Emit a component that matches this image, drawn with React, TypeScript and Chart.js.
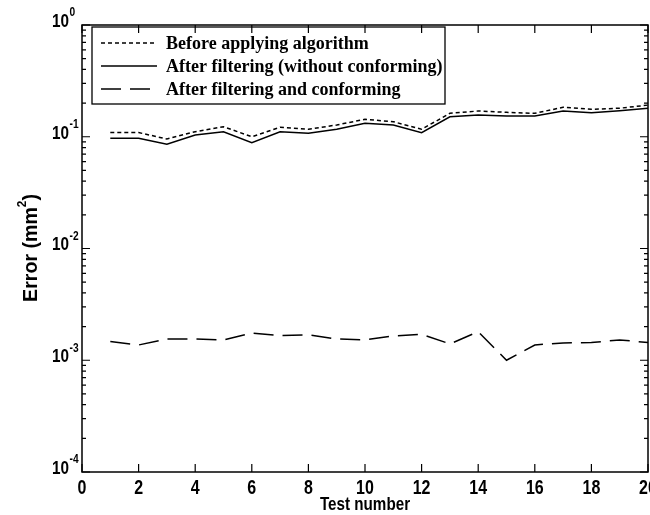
import React, { useEffect, useRef } from 'react';
import { Chart, registerables } from 'chart.js';

Chart.register(...registerables);

const testNumbers = [1, 2, 3, 4, 5, 6, 7, 8, 9, 10, 11, 12, 13, 14, 15, 16, 17, 18, 19, 20];
const beforeAlgorithm = [0.109, 0.109, 0.0955, 0.111, 0.123, 0.1, 0.1216, 0.1167, 0.1274, 0.1433, 0.1364, 0.1167, 0.162, 0.17, 0.1655, 0.162, 0.1835, 0.176, 0.18, 0.192];
const afterFiltering = [0.0969, 0.0969, 0.0856, 0.1037, 0.111, 0.0885, 0.111, 0.1074, 0.1167, 0.1319, 0.1274, 0.1087, 0.151, 0.1566, 0.1534, 0.1534, 0.17, 0.164, 0.171, 0.18];
const afterConforming = [0.00147, 0.00137, 0.00155, 0.00155, 0.00152, 0.00175, 0.00166, 0.00169, 0.00155, 0.00152, 0.00165, 0.00171, 0.0014, 0.0018, 0.001, 0.00137, 0.00143, 0.00144, 0.00152, 0.00144];
const xTickValues = [0, 2, 4, 6, 8, 10, 12, 14, 16, 18, 20];
const yDecadeExponents = [-4, -3, -2, -1, 0];
const seriesLabels = ['Before applying algorithm', 'After filtering (without conforming)', 'After filtering and conforming'];
const xTitle = 'Test number';

const SANS = '"Liberation Sans", Arial, sans-serif';
const SERIF = '"Liberation Serif", "Times New Roman", serif';

function condensedText(ctx: CanvasRenderingContext2D, text: string, x: number, y: number, font: string, sx: number, align: CanvasTextAlign) {
  ctx.save();
  ctx.font = font;
  ctx.translate(x, y);
  ctx.scale(sx, 1);
  ctx.textAlign = align;
  ctx.textBaseline = 'middle';
  ctx.fillText(text, 0, 0);
  ctx.restore();
}

const framePlugin = {
  id: 'matlabFrame',
  afterDatasetsDraw(chart: any) {
    const ctx: CanvasRenderingContext2D = chart.ctx;
    const { left, right, top, bottom } = chart.chartArea;
    const xs = chart.scales.x;
    const ys = chart.scales.y;
    ctx.save();
    ctx.fillStyle = '#000';
    ctx.strokeStyle = '#000';

    // legend box
    const lx0 = 92, lx1 = 445, ly0 = 27, ly1 = 104;
    ctx.fillStyle = '#fff';
    ctx.fillRect(lx0, ly0, lx1 - lx0, ly1 - ly0);
    ctx.lineWidth = 1.3;
    ctx.strokeRect(lx0, ly0, lx1 - lx0, ly1 - ly0);
    const rows = [43, 66, 89];
    chart.data.datasets.forEach((ds: any, i: number) => {
      const y = rows[i];
      ctx.save();
      ctx.lineWidth = ds.borderWidth;
      ctx.setLineDash(ds.borderDash || []);
      ctx.beginPath();
      ctx.moveTo(101, y);
      ctx.lineTo(157, y);
      ctx.stroke();
      ctx.restore();
      ctx.fillStyle = '#000';
      ctx.font = `bold 18px ${SERIF}`;
      ctx.textAlign = 'left';
      ctx.textBaseline = 'middle';
      ctx.fillText(ds.label, 166, y + 1);
    });

    // frame
    ctx.lineWidth = 1.5;
    ctx.setLineDash([]);
    ctx.strokeRect(left, top, right - left, bottom - top);

    // x ticks (inside, bottom and top)
    ctx.lineWidth = 1.2;
    xTickValues.forEach((v) => {
      const px = xs.getPixelForValue(v);
      ctx.beginPath();
      ctx.moveTo(px, bottom);
      ctx.lineTo(px, bottom - 8);
      ctx.moveTo(px, top);
      ctx.lineTo(px, top + 8);
      ctx.stroke();
      ctx.fillStyle = '#000';
      condensedText(ctx, String(v), px, 488, `bold 20px ${SANS}`, 0.8, 'center');
    });

    // y ticks (log, inside, left and right)
    yDecadeExponents.forEach((e) => {
      const base = Math.pow(10, e);
      const py = ys.getPixelForValue(base);
      ctx.beginPath();
      ctx.moveTo(left, py);
      ctx.lineTo(left + 8, py);
      ctx.moveTo(right, py);
      ctx.lineTo(right - 8, py);
      ctx.stroke();
      if (e < 0) {
        for (let m = 2; m <= 9; m++) {
          const pm = ys.getPixelForValue(base * m);
          ctx.beginPath();
          ctx.moveTo(left, pm);
          ctx.lineTo(left + 4, pm);
          ctx.moveTo(right, pm);
          ctx.lineTo(right - 4, pm);
          ctx.stroke();
        }
      }
      ctx.fillStyle = '#000';
      const expText = e === 0 ? '0' : '-' + String(-e);
      condensedText(ctx, '10', 69, py - 3, `bold 18px ${SANS}`, 0.85, 'right');
      condensedText(ctx, expText, 69.5, py - 12, `bold 12px ${SANS}`, 0.85, 'left');
    });

    // x title
    condensedText(ctx, xTitle, (left + right) / 2, 505, `bold 19px ${SANS}`, 0.8, 'center');

    // y title with superscript
    ctx.save();
    ctx.translate(31, 248);
    ctx.rotate(-Math.PI / 2);
    ctx.scale(0.98, 1);
    ctx.font = `bold 20px ${SANS}`;
    ctx.textBaseline = 'middle';
    const mainA = 'Error (mm';
    const sup = '2';
    const mainB = ')';
    const wA = ctx.measureText(mainA).width;
    ctx.font = `bold 12px ${SANS}`;
    const wS = ctx.measureText(sup).width;
    ctx.font = `bold 20px ${SANS}`;
    const wB = ctx.measureText(mainB).width;
    const total = wA + wS + wB;
    let cx = -total / 2;
    ctx.textAlign = 'left';
    ctx.fillText(mainA, cx, 0);
    cx += wA;
    ctx.font = `bold 12px ${SANS}`;
    ctx.fillText(sup, cx, -8);
    cx += wS;
    ctx.font = `bold 20px ${SANS}`;
    ctx.fillText(mainB, cx, 0);
    ctx.restore();

    ctx.restore();
  },
};

export default function App() {
  const ref = useRef<HTMLCanvasElement | null>(null);
  useEffect(() => {
    document.body.style.margin = '0';
    const canvas = ref.current;
    if (!canvas) return;
    const mk = (vals: number[]) => testNumbers.map((x, i) => ({ x, y: vals[i] }));
    const chart = new Chart(canvas, {
      type: 'line',
      data: {
        datasets: [
          { label: seriesLabels[0], data: mk(beforeAlgorithm), borderColor: '#000', borderWidth: 1.5, borderDash: [4, 3], pointRadius: 0, tension: 0, fill: false },
          { label: seriesLabels[1], data: mk(afterFiltering), borderColor: '#000', borderWidth: 1.5, borderDash: [], pointRadius: 0, tension: 0, fill: false },
          { label: seriesLabels[2], data: mk(afterConforming), borderColor: '#000', borderWidth: 1.5, borderDash: [20, 9], pointRadius: 0, tension: 0, fill: false },
        ],
      },
      options: {
        animation: false,
        responsive: false,
        layout: { padding: { left: 82, right: 2, top: 25, bottom: 43 } },
        plugins: { legend: { display: false }, tooltip: { enabled: false } },
        scales: {
          x: { type: 'linear', min: 0, max: 20, display: false },
          y: { type: 'logarithmic', min: 1e-4, max: 1, display: false },
        },
      } as any,
      plugins: [framePlugin],
    });
    return () => chart.destroy();
  }, []);
  return (
    <div style={{ width: 650, height: 515, background: '#fff' }}>
      <canvas ref={ref} width={650} height={515} style={{ display: 'block' }} />
    </div>
  );
}
